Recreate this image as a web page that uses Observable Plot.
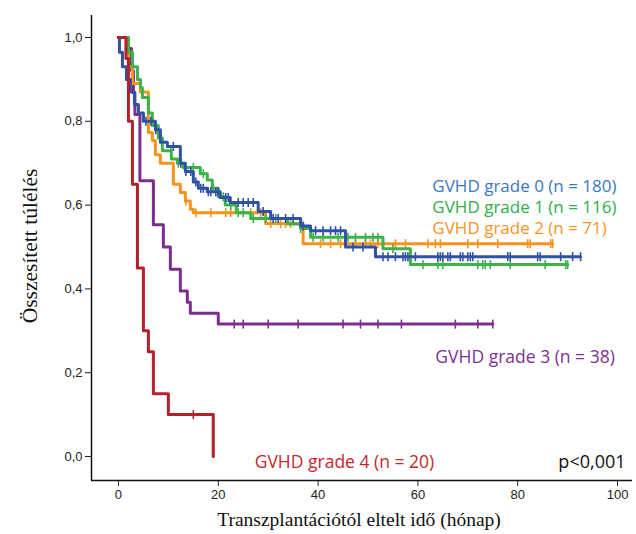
<!DOCTYPE html>
<html>
<head>
<meta charset="utf-8">
<script src="https://cdn.jsdelivr.net/npm/d3@7"></script>
<script src="https://cdn.jsdelivr.net/npm/@observablehq/plot@0.6"></script>
<style>
  html, body { margin: 0; padding: 0; background: #fff; }
  #chart { width: 636px; height: 534px; }
</style>
</head>
<body>
<div id="chart"></div>
<script>
// ---- data (time in months, survival proportion) ----
const groups = ["GVHD grade 0 (n = 180)", "GVHD grade 1 (n = 116)", "GVHD grade 2 (n = 71)", "GVHD grade 3 (n = 38)", "GVHD grade 4 (n = 20)"];

const grade0 = [[0,1],[0.2,0.965],[0.8,0.93],[1.6,0.90],[2.4,0.87],[3.2,0.84],[4,0.82],[5,0.80],[7.4,0.78],[8.4,0.75],[9.8,0.74],[12.4,0.70],[13.4,0.68],[15,0.655],[16,0.64],[17.8,0.632],[20.4,0.618],[22.4,0.606],[28,0.585],[30.5,0.568],[36.5,0.55],[38.5,0.539],[45.5,0.50],[51.5,0.477],[92.6,0.477]];
const grade1 = [[0,1],[2,0.965],[2.8,0.93],[3.8,0.90],[4.4,0.88],[4.8,0.857],[6,0.82],[6.8,0.79],[8,0.76],[8.8,0.73],[10.6,0.71],[11.8,0.70],[13,0.69],[16.4,0.675],[17.8,0.66],[18.8,0.64],[20,0.62],[21.4,0.60],[23.6,0.582],[26.5,0.568],[33.9,0.555],[36.5,0.544],[38.5,0.523],[53,0.496],[58.5,0.458],[90,0.458]];
const grade2 = [[0,1],[2,0.93],[2.8,0.89],[4.4,0.87],[6,0.773],[6.8,0.754],[7.4,0.72],[8.4,0.70],[11,0.65],[12.4,0.63],[13.4,0.61],[14.4,0.59],[15,0.582],[29.5,0.556],[37,0.508],[87,0.508]];
const grade3 = [[0,1],[1.8,0.974],[2.6,0.921],[3,0.868],[3.3,0.816],[4.3,0.658],[7,0.553],[9,0.50],[10.4,0.447],[12.4,0.395],[13.8,0.368],[14.4,0.342],[20,0.316],[75,0.316]];
const grade4 = [[0,1],[1.5,0.95],[2,0.80],[2.8,0.65],[3.8,0.45],[5,0.30],[6,0.25],[7,0.15],[10,0.10],[19,0.0]];

const censor0 = [5.5,6.5,7.5,11,12.5,13.5,14.5,15.5,16.5,17,18,18.5,19.5,20,21.5,22,24,25,26,27,29,31,32,33.5,35,37,39.5,41,42.5,43.5,44.5,47,49,53,54,55.5,57,57.5,58,59.5,64,64.5,65,66,66.5,68.5,69,70,70.5,71,78,78.5,84,84.5,88.6,91,92.6];
const censor1 = [8.5,10.5,12,13.5,15,17,19,21,22.5,24,25,27,29.5,31.5,36.5,39,41,44,46,47.5,49.5,51,52,55,61,64,65,72,73,73.5,74.5,78.5,85.5,89.6,90];
const censor2 = [13.5,15.5,18.5,21.5,22.5,26.5,28.5,30.5,32.5,33.5,34.5,36.5,40.5,42.5,44.5,47.5,49.5,50.5,52,55.5,57.5,62,63.5,64.5,70,72,76,82,82.5,86.6,87];
const censor3 = [23.2,25,30,36,45,48.5,52,56.7,67.5,72,75];
const censor4 = [15];

const xTicks = [0, 20, 40, 60, 80, 100];
const yTicks = [0, 0.2, 0.4, 0.6, 0.8, 1.0];

const lineColors = ["#2f52a5", "#3db34a", "#f7941d", "#7b2e8e", "#b3212b"];
const textColors = ["#3b78c4", "#2fae4a", "#f7941d", "#7b3294", "#c4272e"];

// ---- build tables ----
const curves = [grade0, grade1, grade2, grade3, grade4];
const censors = [censor0, censor1, censor2, censor3, censor4];
const stepRows = curves.flatMap((c, i) => c.map(([t, s]) => ({group: groups[i], t, s})));
function survAt(curve, t) {
  let s = curve[0][1];
  for (const [ti, si] of curve) { if (ti <= t) s = si; else break; }
  return s;
}
const censorRows = censors.flatMap((ts, i) => ts.map(t => ({group: groups[i], t, s: survAt(curves[i], t)})));

const vbar = { draw(context, size) { const h = Math.sqrt(size / Math.PI); context.moveTo(0, -h); context.lineTo(0, h); } };

const xMin = -5.4, xMax = 103, yMin = -0.0573, yMax = 1.0525;
const drawOrder = [3, 2, 1, 0, 4];

const marks = [
  Plot.axisX({ticks: xTicks, tickSize: 6, tickPadding: 3, label: null, fontSize: 13, stroke: "#222"}),
  Plot.axisY({ticks: yTicks, tickSize: 6, tickPadding: 3, label: null, fontSize: 13, tickFormat: d => d.toFixed(1).replace(".", ",")}),
  Plot.ruleX([xMin], {stroke: "#111", strokeWidth: 1.5}),
  Plot.ruleY([yMin], {stroke: "#111", strokeWidth: 1.5})
];
for (const i of drawOrder) {
  marks.push(Plot.line(stepRows.filter(d => d.group === groups[i]), {x: "t", y: "s", curve: "step-after", stroke: lineColors[i], strokeWidth: 3}));
  marks.push(Plot.dot(censorRows.filter(d => d.group === groups[i]), {x: "t", y: "s", symbol: vbar, r: 4.5, stroke: lineColors[i], strokeWidth: 1.6, fill: "none"}));
}
const labelFont = "'Open Sans', 'Liberation Sans', Arial, sans-serif";
const serif = "'Liberation Serif', 'Times New Roman', serif";
marks.push(
  Plot.text([groups[0]], {x: 62.9, y: 0.644, text: d => d, textAnchor: "start", fill: textColors[0], fontSize: 17, fontFamily: labelFont}),
  Plot.text([groups[1]], {x: 62.9, y: 0.594, text: d => d, textAnchor: "start", fill: textColors[1], fontSize: 17, fontFamily: labelFont}),
  Plot.text([groups[2]], {x: 62.9, y: 0.544, text: d => d, textAnchor: "start", fill: textColors[2], fontSize: 17, fontFamily: labelFont}),
  Plot.text([groups[3]], {x: 63.5, y: 0.236, text: d => d, textAnchor: "start", fill: textColors[3], fontSize: 17.5, fontFamily: labelFont}),
  Plot.text([groups[4]], {x: 27.3, y: -0.014, text: d => d, textAnchor: "start", fill: textColors[4], fontSize: 17.5, fontFamily: labelFont}),
  Plot.text(["p<0,001"], {x: 101.6, y: -0.014, text: d => d, textAnchor: "end", fill: "#111", fontSize: 18, fontFamily: labelFont}),
  Plot.text(["Transzplantációtól eltelt idő (hónap)"], {frameAnchor: "bottom", dy: 45, dx: -3, textAnchor: "middle", text: d => d, fontFamily: serif, fontSize: 19.5, fill: "#111"}),
  Plot.text(["Összesített túlélés"], {frameAnchor: "left", dx: -61, dy: -2, rotate: -90, textAnchor: "middle", lineAnchor: "middle", text: d => d, fontFamily: serif, fontSize: 21.5, fill: "#111"})
);

const chart = Plot.plot({
  width: 636,
  height: 534,
  marginLeft: 91,
  marginRight: 4,
  marginTop: 15,
  marginBottom: 54,
  style: {fontFamily: "'Liberation Sans', Arial, sans-serif", fontSize: "13px", color: "#222", background: "#fff"},
  x: {domain: [xMin, xMax]},
  y: {domain: [yMin, yMax]},
  marks
});
document.getElementById("chart").appendChild(chart);
</script>
</body>
</html>
